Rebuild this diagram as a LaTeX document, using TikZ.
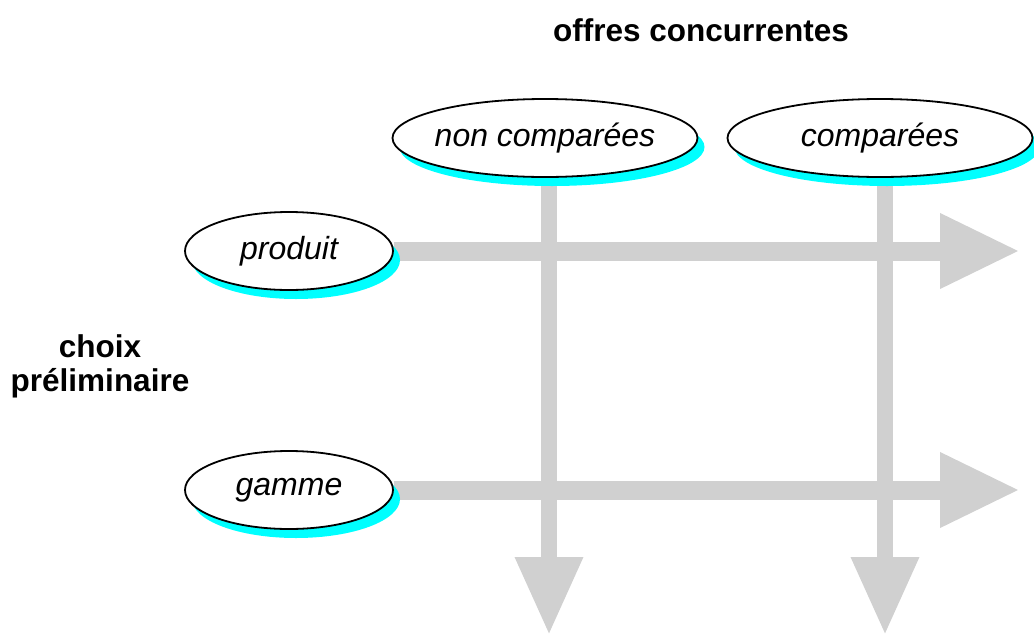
\documentclass[tikz,border=0pt]{standalone}
\usepackage{fontspec}
\setmainfont{Liberation Sans}
\usetikzlibrary{shapes.geometric,shadows,arrows.meta,backgrounds}

\definecolor{shadowcyan}{RGB}{0,255,255}
\definecolor{flowgray}{RGB}{208,208,208}

\tikzset{
	choice/.style={ellipse,draw,line width=1.8pt,fill=white,inner xsep=-5pt,inner ysep=0pt,
		minimum height=78pt,font=\itshape\fontsize{32}{36}\selectfont,
		drop shadow={shadow xshift=7pt,shadow yshift=-9pt,fill=shadowcyan,opacity=1}},
	heading/.style={font=\bfseries\fontsize{31.5}{34}\selectfont,align=center},
	flow/.style={draw=flowgray,line width=19pt,-{Triangle[width=70pt,length=80pt]}},
	vflow/.style={flow,line width=16pt,-{Triangle[width=64pt,length=78pt]}}
}

\begin{document}
\begin{tikzpicture}[x=1pt,y=-1pt]
\useasboundingbox (0,0) rectangle (1034,635);

%headings
\node[heading] (offres) at (701,30) {offres concurrentes};
\node[heading] (choix) at (100,366) {choix\\préliminaire};

%the four choices
\node[choice,minimum width=305pt] (noncomp) at (545,138) {non comparées};
\node[choice,minimum width=305pt] (comp) at (880,138) {comparées};
\node[choice,minimum width=208pt] (produit) at (289,251) {produit};
\node[choice,minimum width=208pt] (gamme) at (289,490) {gamme};

%ends of the big arrows
\coordinate (produitEnd) at (1020,251);
\coordinate (gammeEnd) at (1020,490);
\coordinate (noncompEnd) at (549,635);
\coordinate (compEnd) at (885,635);

\begin{scope}[on background layer]
\draw[flow] (produit.east) -- (produitEnd);
\draw[flow] (gamme.east) -- (gammeEnd);
\draw[vflow] (noncomp.south -| noncompEnd) -- (noncompEnd);
\draw[vflow] (comp.south -| compEnd) -- (compEnd);
\end{scope}
\end{tikzpicture}
\end{document}
